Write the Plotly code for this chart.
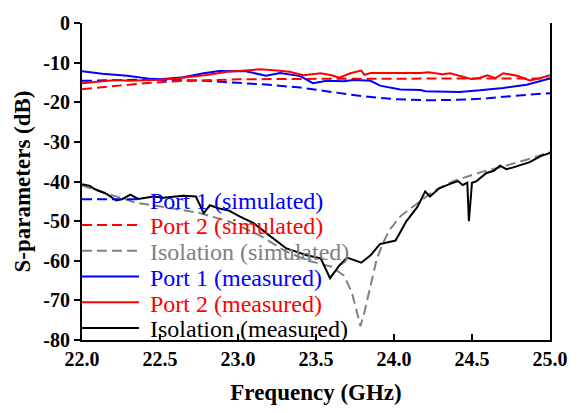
import plotly.graph_objects as go

# ---------------- data ----------------
f_p1_sim = [22.0, 22.2, 22.4, 22.6, 22.8, 23.0, 23.2, 23.4, 23.6, 23.8, 24.0, 24.2, 24.4, 24.6, 24.8, 25.0]
s_p1_sim = [-14.6, -14.4, -14.3, -14.4, -14.6, -15.1, -15.6, -16.3, -17.4, -18.5, -19.2, -19.5, -19.4, -19.0, -18.3, -17.7]

f_p2_sim = [22.0, 22.2, 22.4, 22.6, 22.8, 23.0, 23.5, 24.0, 24.5, 25.0]
s_p2_sim = [-16.7, -15.9, -15.2, -14.7, -14.4, -14.2, -14.1, -14.0, -14.0, -14.0]

f_iso_sim = [22.0, 22.2, 22.35, 22.55, 22.76, 22.95, 23.14, 23.3, 23.45, 23.6, 23.68, 23.73, 23.76, 23.785,
             23.81, 23.85, 23.89, 23.93, 23.97, 24.04, 24.13, 24.25, 24.38, 24.57, 24.7, 24.85, 25.0]
s_iso_sim = [-41.0, -43.5, -45.4, -46.6, -48.0, -50.2, -53.6, -57.5, -60.0, -61.5, -63.8, -68.0, -72.5, -76.5,
             -73.0, -66.0, -59.5, -55.5, -52.3, -48.8, -46.0, -42.5, -39.9, -37.5, -36.2, -34.5, -32.6]

f_p1_meas = [22.0, 22.13, 22.29, 22.44, 22.5, 22.65, 22.78, 22.88, 23.05, 23.18, 23.27, 23.4, 23.48, 23.57,
             23.68, 23.74, 23.85, 23.91, 24.04, 24.17, 24.2, 24.42, 24.55, 24.7, 24.85, 25.0]
s_p1_meas = [-12.2, -12.8, -13.3, -14.1, -14.2, -13.7, -12.7, -12.1, -12.2, -13.3, -12.6, -13.4, -15.2, -14.6,
             -14.7, -14.4, -14.6, -15.8, -16.8, -16.9, -17.2, -17.4, -17.0, -16.4, -15.6, -14.0]

f_p2_meas = [22.0, 22.1, 22.22, 22.3, 22.4, 22.5, 22.6, 22.7, 22.8, 22.93, 23.0, 23.14, 23.25, 23.33, 23.42,
             23.53, 23.6, 23.65, 23.72, 23.79, 23.81, 23.85, 24.0, 24.17, 24.22, 24.31, 24.36, 24.42, 24.5,
             24.55, 24.6, 24.65, 24.7, 24.79, 24.87, 24.93, 25.0]
s_p2_meas = [-15.2, -14.8, -14.4, -14.6, -14.5, -14.3, -14.0, -13.6, -13.1, -12.3, -12.1, -11.7, -12.0, -12.3, -13.2,
             -12.7, -13.2, -13.8, -12.7, -12.0, -13.1, -12.6, -12.6, -12.6, -12.4, -12.9, -12.7, -13.3, -14.2,
             -13.8, -13.2, -13.9, -12.7, -13.3, -14.5, -14.0, -13.2]

f_iso_meas = [22.0, 22.05, 22.08, 22.16, 22.22, 22.26, 22.31, 22.36, 22.46, 22.52, 22.65, 22.73, 22.78, 22.82,
              22.88, 22.94, 23.01, 23.1, 23.2, 23.31, 23.44, 23.53, 23.59, 23.65, 23.7, 23.79, 23.85, 23.91,
              24.01, 24.04, 24.08, 24.15, 24.2, 24.23, 24.29, 24.36, 24.41, 24.44, 24.47, 24.48, 24.5, 24.53,
              24.59, 24.64, 24.68, 24.72, 24.76, 24.87, 24.94, 25.0]
s_iso_meas = [-40.7, -41.1, -41.9, -43.2, -44.8, -44.4, -43.3, -44.4, -43.8, -44.1, -43.6, -43.8, -48.0, -46.0,
              -46.8, -47.3, -48.8, -50.5, -53.6, -56.9, -58.6, -59.4, -64.4, -61.2, -59.2, -60.5, -58.6, -55.8,
              -54.9, -52.9, -50.0, -46.4, -42.5, -43.8, -41.7, -40.6, -39.9, -40.9, -40.3, -50.0, -40.3, -39.9,
              -37.9, -37.3, -36.0, -36.9, -36.5, -35.1, -33.6, -32.8]

x_ticks = [22.0, 22.5, 23.0, 23.5, 24.0, 24.5, 25.0]
y_ticks = [0, -10, -20, -30, -40, -50, -60, -70, -80]

# ---------------- figure ----------------
SERIF = "Liberation Serif"
DASH = "10px,5px"

series = [
    (f_p1_sim, s_p1_sim, "#0000FF", DASH, "Port 1 (simulated)"),
    (f_p2_sim, s_p2_sim, "#FF0000", DASH, "Port 2 (simulated)"),
    (f_iso_sim, s_iso_sim, "#808080", DASH, "Isolation (simulated)"),
    (f_p1_meas, s_p1_meas, "#0000FF", "solid", "Port 1 (measured)"),
    (f_p2_meas, s_p2_meas, "#FF0000", "solid", "Port 2 (measured)"),
    (f_iso_meas, s_iso_meas, "#000000", "solid", "Isolation (measured)"),
]

W, H = 586, 413
M_L, M_R, M_T, M_B = 82, 36, 12, 71
plot_h = H - M_T - M_B
plot_w = W - M_L - M_R
row0, row_step = 196.0, 26.8

fig = go.Figure()
layout_legends = {}
for i, (fx, sy, col, dash, name) in enumerate(series):
    key = "legend" if i == 0 else f"legend{i + 1}"
    fig.add_trace(go.Scatter(
        x=fx, y=sy, mode="lines",
        line=dict(color=col, width=2, dash=dash),
        name=f"<span style='color:{col}'>&nbsp;{name}</span>",
        legend=key,
    ))
    py = row0 + i * row_step
    layout_legends[key] = dict(
        x=-5 / plot_w, y=1 - (py - M_T) / plot_h, xanchor="left", yanchor="middle",
        bgcolor="rgba(0,0,0,0)", borderwidth=0,
        font=dict(family=SERIF, size=24),
        itemwidth=57,
    )

fig.update_layout(
    width=W, height=H,
    margin=dict(l=M_L, r=M_R, t=M_T, b=M_B),
    paper_bgcolor="white", plot_bgcolor="white",
    font=dict(family=SERIF, color="black"),
    showlegend=True,
    xaxis=dict(
        range=[22.0, 25.0], tickvals=x_ticks, ticktext=[f"<b>{v:.1f}</b>" for v in x_ticks],
        ticks="inside", ticklen=6, tickwidth=2, tickcolor="black",
        showline=True, linecolor="black", linewidth=2, mirror=False,
        showgrid=False, zeroline=False,
        tickfont=dict(family=SERIF, size=20, color="black"),
        title=dict(text="<b>Frequency (GHz)</b>", font=dict(family=SERIF, size=23), standoff=15),
    ),
    yaxis=dict(
        range=[-80, 0], tickvals=y_ticks, ticktext=[f"<b>{v}</b>" for v in y_ticks],
        ticks="outside", ticklen=6, tickwidth=2, tickcolor="black",
        showline=True, linecolor="black", linewidth=2, mirror=True,
        showgrid=False, zeroline=False,
        tickfont=dict(family=SERIF, size=20, color="black"),
        title=dict(text="<b>S-parameters (dB)</b>", font=dict(family=SERIF, size=23), standoff=6),
    ),
    **layout_legends,
)

fig.write_html("out.html")
